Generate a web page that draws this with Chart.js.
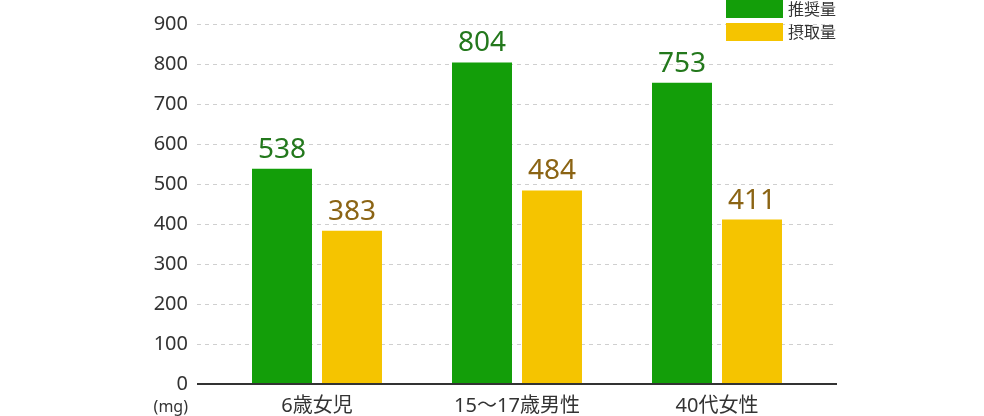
<!DOCTYPE html>
<html>
<head>
<meta charset="utf-8">
<script src="https://cdn.jsdelivr.net/npm/chart.js@4"></script>
<style>
  html, body { margin: 0; padding: 0; background: #fff; overflow: hidden; }
  canvas { display: block; }
</style>
</head>
<body>
<canvas id="myChart" width="984" height="416"></canvas>
<script>
const categories = ['6歳女児', '15〜17歳男性', '40代女性'];
const seriesNames = ['推奨量', '摂取量'];
const recommended = [538, 804, 753];
const intake = [383, 484, 411];
const unitLabel = '(mg)';

const barColors = ['#139e09', '#f5c400'];
const labelColors = ['#23781c', '#8b6414'];
const FONT = '"Noto Sans", "Noto Sans CJK JP", sans-serif';

// dashed grid + axis line, drawn a bit wider than the chart area
const extrasPlugin = {
  id: 'extras',
  beforeDatasetsDraw(chart) {
    const c = chart.ctx, y = chart.scales.y;
    const x0 = 197, x1 = 837;
    c.save();
    c.strokeStyle = '#cfcfcf';
    c.lineWidth = 1;
    c.setLineDash([4, 4]);
    for (let v = 100; v <= 900; v += 100) {
      const py = Math.round(y.getPixelForValue(v)) + 0.5;
      c.beginPath(); c.moveTo(x0, py); c.lineTo(x1, py); c.stroke();
    }
    c.restore();
  },
  afterDatasetsDraw(chart) {
    const c = chart.ctx, y = chart.scales.y;
    c.save();
    // axis line
    c.strokeStyle = '#333';
    c.lineWidth = 2;
    const py = y.getPixelForValue(0);
    c.beginPath(); c.moveTo(197, py); c.lineTo(837, py); c.stroke();

    // value labels
    c.font = '28px ' + FONT;
    c.textAlign = 'center';
    c.textBaseline = 'alphabetic';
    chart.data.datasets.forEach((ds, i) => {
      chart.getDatasetMeta(i).data.forEach((bar, j) => {
        c.fillStyle = labelColors[i];
        c.fillText(ds.data[j], bar.x, bar.y - 11);
      });
    });

    // unit
    c.fillStyle = '#333';
    c.font = '16px ' + FONT;
    c.textAlign = 'right';
    c.textBaseline = 'middle';
    c.fillText(unitLabel, 188, 407);

    // legend
    c.font = '16px "Noto Sans CJK JP", sans-serif';
    c.textAlign = 'left';
    chart.data.datasets.forEach((ds, i) => {
      const top = i * 23;
      c.fillStyle = ds.backgroundColor;
      c.fillRect(726, top, 57, 18);
      c.fillStyle = '#333';
      c.fillText(ds.label, 788, top + 9);
    });
    c.restore();
  }
};

const ctx = document.getElementById('myChart').getContext('2d');
const myChart = new Chart(ctx, {
  type: 'bar',
  data: {
    labels: categories,
    datasets: [
      { label: seriesNames[0], data: recommended, backgroundColor: barColors[0] },
      { label: seriesNames[1], data: intake, backgroundColor: barColors[1] }
    ]
  },
  options: {
    responsive: false,
    animation: false,
    categoryPercentage: 0.7,
    barPercentage: 0.857,
    layout: { padding: { left: 0, right: 167, top: 24, bottom: 0 } },
    scales: {
      x: {
        grid: { display: false, drawTicks: true, tickLength: 8 },
        border: { display: false },
        ticks: { color: '#333', font: { size: 20, family: FONT }, padding: 2 },
        afterFit(scale) { scale.height = 32; }
      },
      y: {
        min: 0,
        max: 900,
        grid: { display: false, drawTicks: true, tickLength: 29 },
        border: { display: false },
        ticks: { stepSize: 100, color: '#333', font: { size: 20, family: FONT }, padding: 0 },
        afterFit(scale) { scale.width = 217; }
      }
    },
    plugins: {
      legend: { display: false },
      tooltip: { enabled: false }
    }
  },
  plugins: [extrasPlugin]
});
</script>
</body>
</html>
